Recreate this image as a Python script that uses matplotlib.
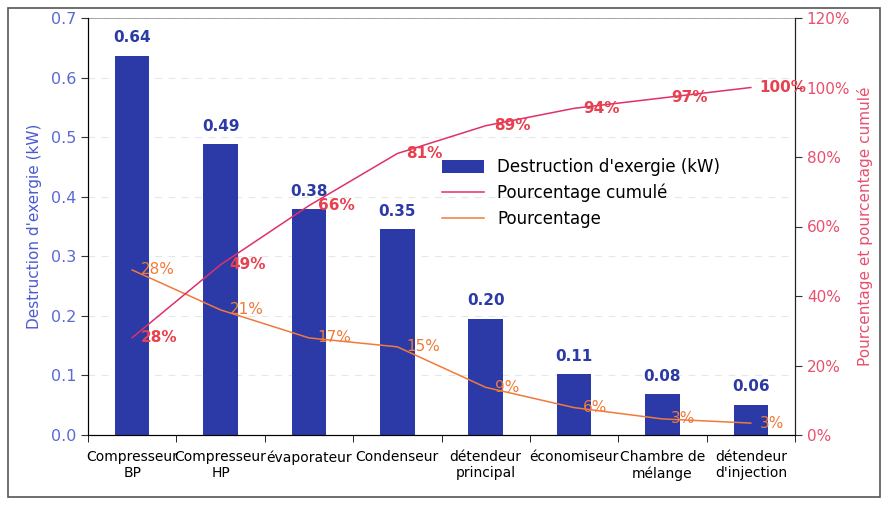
import matplotlib
matplotlib.use("Agg")
import matplotlib.pyplot as plt
from matplotlib.patches import Rectangle

categories = ["Compresseur\nBP", "Compresseur\nHP", "évaporateur", "Condenseur",
              "détendeur\nprincipal", "économiseur", "Chambre de\nmélange", "détendeur\nd'injection"]
destruction = [0.637, 0.488, 0.379, 0.345, 0.195, 0.102, 0.068, 0.051]
bar_labels = ["0.64", "0.49", "0.38", "0.35", "0.20", "0.11", "0.08", "0.06"]
pourcentage = [0.277, 0.210, 0.163, 0.148, 0.080, 0.046, 0.027, 0.020]
pct_labels = ["28%", "21%", "17%", "15%", "9%", "6%", "3%", "3%"]
cumul = [0.28, 0.49, 0.66, 0.81, 0.89, 0.94, 0.97, 1.00]
cumul_labels = ["28%", "49%", "66%", "81%", "89%", "94%", "97%", "100%"]

bar_col = "#2b3aa6"
cum_col = "#e0306a"
pct_col = "#f07a3a"
lab_red = "#e8404e"

fig = plt.figure(figsize=(8.88, 5.05), dpi=100)
ax = fig.add_axes([88/888, 1-435/505, (795-88)/888, (435-18)/505])
x = list(range(len(categories)))

ax.set_axisbelow(True)
ax.yaxis.grid(True, color="#e6e6e6", lw=0.8, ls=(0, (6, 6)))
bars = ax.bar(x, destruction, width=0.39, color=bar_col, label="Destruction d'exergie (kW)")
for xi, v, t in zip(x, destruction, bar_labels):
    ax.text(xi, v + 0.018, t, ha="center", va="bottom", color=bar_col,
            fontsize=11, fontweight="bold")

# the percentage line sits on the primary axis (as in the original)
ln2, = ax.plot(x, pourcentage, color=pct_col, lw=1.1, label="Pourcentage")
for xi, v, t in zip(x, pourcentage, pct_labels):
    ax.text(xi + 0.1, v, t, ha="left", va="center", color=pct_col, fontsize=11)

ax.set_xlim(-0.5, 7.5)
ax.set_ylim(0, 0.7)
ax.set_yticks([0, 0.1, 0.2, 0.3, 0.4, 0.5, 0.6, 0.7])
ax.set_yticklabels(["0.0", "0.1", "0.2", "0.3", "0.4", "0.5", "0.6", "0.7"])
ax.tick_params(axis="y", colors="#333333", labelcolor="#5a6ad2", labelsize=11.5, direction="out", length=5)
ax.set_xticks(x)
ax.set_xticklabels(categories, fontsize=10)
ax.tick_params(axis="x", length=0, pad=11)
ax.set_xticks([i - 0.5 for i in range(9)], minor=True)
ax.tick_params(axis="x", which="minor", length=5, direction="out")
ax.set_ylabel("Destruction d'exergie (kW)", color="#4a5ad0", fontsize=11, labelpad=6)
for s in ["left", "bottom"]:
    ax.spines[s].set_color("#222222")
ax.spines["top"].set_color("#999999")
ax.spines["top"].set_linewidth(0.6)

ax2 = ax.twinx()
ln1, = ax2.plot(x, cumul, color=cum_col, lw=1.1, label="Pourcentage cumulé")
for xi, v, t in zip(x, cumul, cumul_labels):
    ax2.text(xi + 0.1, v, t, ha="left", va="center", color=lab_red, fontsize=11, fontweight="bold")
ax2.set_ylim(0, 1.2)
ax2.set_yticks([0, 0.2, 0.4, 0.6, 0.8, 1.0, 1.2])
ax2.set_yticklabels(["0%", "20%", "40%", "60%", "80%", "100%", "120%"])
ax2.tick_params(axis="y", colors="#333333", labelcolor="#e8506e", labelsize=11, direction="out", length=5)
ax2.set_ylabel("Pourcentage et pourcentage cumulé", color="#e8506e", fontsize=11, labelpad=5)
ax2.spines["right"].set_color("#222222")
ax2.spines["top"].set_visible(False)

ax2.legend([bars, ln1, ln2], ["Destruction d'exergie (kW)", "Pourcentage cumulé", "Pourcentage"],
           loc="upper left", bbox_to_anchor=(0.48, 0.70), frameon=False, fontsize=12,
           handlelength=2.5, handleheight=0.8, labelspacing=0.45)

fig.patches.append(Rectangle((8/888, 8/505), 872/888, 489/505, transform=fig.transFigure,
                             fill=False, edgecolor="#555555", lw=1.2))

fig.savefig("out.png", dpi=100)
